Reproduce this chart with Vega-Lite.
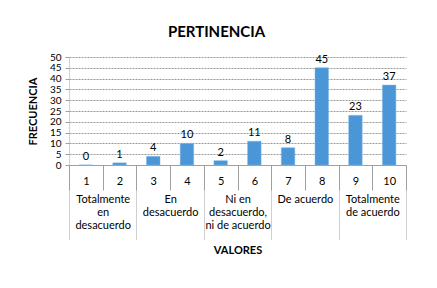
{
  "$schema": "https://vega.github.io/schema/vega-lite/v6.json",
  "width": 337,
  "height": 108,
  "autosize": "none",
  "padding": {"left": 69, "top": 57, "right": 31, "bottom": 123},
  "background": "white",
  "config": {
    "font": "Lato",
    "view": {"stroke": null},
    "axis": {"labelFont": "Lato", "titleFont": "Lato", "labelColor": "#000", "titleColor": "#000"}
  },
  "title": {
    "text": "PERTINENCIA",
    "fontSize": 15,
    "fontWeight": "bold",
    "font": "Lato",
    "color": "#000",
    "anchor": "middle",
    "dx": -21,
    "offset": 12
  },
  "data": {
    "values": [
      {"valor": "1", "frecuencia": 0, "grupo": "Totalmente en desacuerdo"},
      {"valor": "2", "frecuencia": 1, "grupo": "Totalmente en desacuerdo"},
      {"valor": "3", "frecuencia": 4, "grupo": "En desacuerdo"},
      {"valor": "4", "frecuencia": 10, "grupo": "En desacuerdo"},
      {"valor": "5", "frecuencia": 2, "grupo": "Ni en desacuerdo, ni de acuerdo"},
      {"valor": "6", "frecuencia": 11, "grupo": "Ni en desacuerdo, ni de acuerdo"},
      {"valor": "7", "frecuencia": 8, "grupo": "De acuerdo"},
      {"valor": "8", "frecuencia": 45, "grupo": "De acuerdo"},
      {"valor": "9", "frecuencia": 23, "grupo": "Totalmente de acuerdo"},
      {"valor": "10", "frecuencia": 37, "grupo": "Totalmente de acuerdo"}
    ]
  },
  "layer": [
    {
      "encoding": {
        "x": {
          "field": "valor", "type": "ordinal", "sort": null,
          "scale": {"paddingInner": 0, "paddingOuter": 0},
          "axis": {
            "title": null, "labelAngle": 0, "labelFontSize": 11,
            "tickBand": "extent", "tickSize": 25, "tickColor": "#a0a0a0",
            "labelPadding": -15, "domainColor": "#a0a0a0", "grid": false
          }
        },
        "y": {
          "field": "frecuencia", "type": "quantitative",
          "scale": {"domain": [0, 50], "nice": false},
          "axis": {
            "title": "FRECUENCIA", "titleFontSize": 11, "titleFontWeight": "bold",
            "titlePadding": 11, "values": [0, 5, 10, 15, 20, 25, 30, 35, 40, 45, 50],
            "labelOverlap": false, "labelFlush": false, "labelFontSize": 10, "labelBaseline": "middle",
            "tickSize": 4, "tickColor": "#a0a0a0", "labelPadding": 4,
            "domainColor": "#a0a0a0", "domainDash": [1, 1],
            "gridColor": "#9a9a9a", "gridDash": [2, 1], "gridOpacity": 1
          }
        }
      },
      "layer": [
        {
          "mark": {"type": "bar", "width": {"band": 0.4}, "color": "#4A96D6", "stroke": "#7DB7E6", "strokeWidth": 0.5}
        },
        {
          "mark": {"type": "text", "dy": -8, "fontSize": 11, "font": "Lato", "color": "#000"},
          "encoding": {
            "text": {"field": "frecuencia", "type": "quantitative"}
          }
        }
      ]
    },
    {
      "mark": {"type": "text", "opacity": 0},
      "encoding": {
        "x": {
          "field": "grupo", "type": "ordinal", "sort": null,
          "scale": {"paddingInner": 0, "paddingOuter": 0},
          "axis": {
            "orient": "bottom", "offset": 25,
            "title": "VALORES", "titleFontSize": 11, "titleFontWeight": "bold", "titlePadding": 4,
            "labelAngle": 0, "labelFontSize": 11, "labelLineHeight": 13,
            "labelExpr": "datum.value == 'Totalmente en desacuerdo' ? ['Totalmente', 'en', 'desacuerdo'] : datum.value == 'En desacuerdo' ? ['En', 'desacuerdo'] : datum.value == 'Ni en desacuerdo, ni de acuerdo' ? ['Ni en', 'desacuerdo,', 'ni de acuerdo'] : datum.value == 'Totalmente de acuerdo' ? ['Totalmente', 'de acuerdo'] : datum.value",
            "labelBaseline": "top",
            "tickBand": "extent", "tickSize": 50, "tickColor": "#a0a0a0", "tickDash": [1, 1],
            "labelPadding": -47, "domain": false, "grid": false, "labelLimit": 0
          }
        },
        "text": {"value": ""}
      }
    }
  ],
  "resolve": {"scale": {"x": "independent"}, "axis": {"x": "independent"}}
}
